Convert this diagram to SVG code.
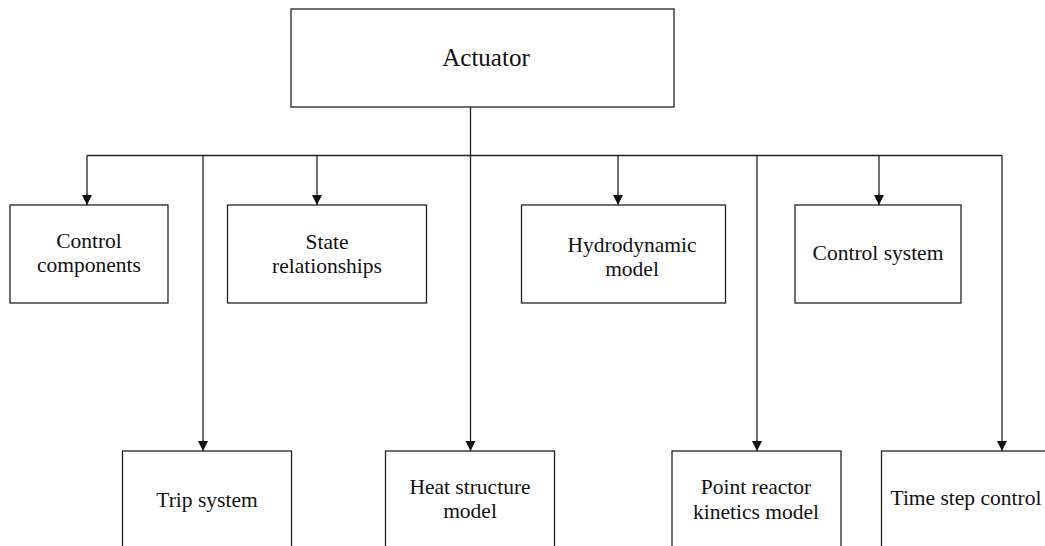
<svg xmlns="http://www.w3.org/2000/svg" width="1045" height="546" viewBox="0 0 1045 546">
<style>
.box{fill:#fff;stroke:#222;stroke-width:1.3}
.ln{fill:none;stroke:#222;stroke-width:1.3}
text{font-family:"Liberation Serif","Times New Roman",serif;font-size:21.5px;fill:#111;text-anchor:middle}
</style>
<defs>
<marker id="arr" markerUnits="userSpaceOnUse" markerWidth="11" markerHeight="11" refX="10" refY="5" orient="auto">
<path d="M0,0 L10,5 L0,10 z" fill="#111"/>
</marker>
</defs>
<rect width="1045" height="546" fill="#fff"/>
<g id="connectors">
<path class="ln" d="M470.5,107 V155.5"/>
<path class="ln" d="M87,155.5 H1002"/>
<path class="ln" d="M87,155.5 V205" marker-end="url(#arr)"/>
<path class="ln" d="M317,155.5 V205" marker-end="url(#arr)"/>
<path class="ln" d="M618,155.5 V205" marker-end="url(#arr)"/>
<path class="ln" d="M879,155.5 V205" marker-end="url(#arr)"/>
<path class="ln" d="M203,155.5 V451" marker-end="url(#arr)"/>
<path class="ln" d="M470.5,155.5 V451" marker-end="url(#arr)"/>
<path class="ln" d="M757,155.5 V451" marker-end="url(#arr)"/>
<path class="ln" d="M1002,155.5 V451" marker-end="url(#arr)"/>
</g>
<g id="actuator">
<rect class="box" x="291" y="9" width="383" height="98"/>
<text x="486" y="66" style="font-size:25px">Actuator</text>
</g>
<g id="control-components">
<rect class="box" x="10" y="205" width="158" height="98"/>
<text x="89" y="248">Control</text>
<text x="89" y="272">components</text>
</g>
<g id="state-relationships">
<rect class="box" x="227.5" y="205" width="199" height="98"/>
<text x="327" y="249">State</text>
<text x="327" y="273">relationships</text>
</g>
<g id="hydrodynamic-model">
<rect class="box" x="521.5" y="205" width="204" height="98"/>
<text x="632" y="252">Hydrodynamic</text>
<text x="632" y="276">model</text>
</g>
<g id="control-system">
<rect class="box" x="795" y="205" width="166" height="98"/>
<text x="878" y="260">Control system</text>
</g>
<g id="trip-system">
<rect class="box" x="122.5" y="451" width="169" height="110"/>
<text x="207" y="507">Trip system</text>
</g>
<g id="heat-structure-model">
<rect class="box" x="385.5" y="451" width="169" height="110"/>
<text x="470" y="494">Heat structure</text>
<text x="470" y="518">model</text>
</g>
<g id="point-reactor-kinetics-model">
<rect class="box" x="672" y="451" width="169" height="110"/>
<text x="756" y="494">Point reactor</text>
<text x="756" y="519">kinetics model</text>
</g>
<g id="time-step-control">
<rect class="box" x="881.5" y="451" width="169" height="110"/>
<text x="890.5" y="505" style="text-anchor:start">Time step control</text>
</g>
</svg>
